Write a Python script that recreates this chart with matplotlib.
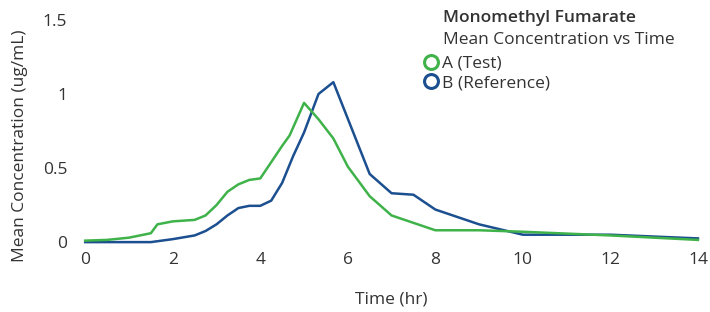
import matplotlib
matplotlib.use('Agg')
import matplotlib.pyplot as plt
from matplotlib.lines import Line2D

plt.rcParams['font.family'] = ['Open Sans', 'DejaVu Sans']

# A (Test)
time_a = [0, 0.5, 1.0, 1.5, 1.65, 2.0, 2.5, 2.75, 3.0, 3.25, 3.5, 3.75, 4.0,
          4.5, 4.67, 5.0, 5.33, 5.67, 6.0, 6.5, 7.0, 7.5, 8.0, 9.0, 10, 12, 14]
conc_a = [0.01, 0.015, 0.03, 0.06, 0.12, 0.14, 0.15, 0.18, 0.25, 0.34, 0.39, 0.42, 0.43,
          0.65, 0.72, 0.94, 0.83, 0.70, 0.51, 0.31, 0.18, 0.13, 0.08, 0.08, 0.07, 0.045, 0.015]

# B (Reference)
time_b = [0, 1.5, 2.0, 2.5, 2.75, 3.0, 3.25, 3.5, 3.75, 4.0, 4.25, 4.5, 4.75,
          5.0, 5.33, 5.67, 6.5, 7.0, 7.5, 8.0, 9.0, 10.0, 12, 14]
conc_b = [0, 0, 0.02, 0.045, 0.075, 0.12, 0.18, 0.23, 0.245, 0.245, 0.28, 0.40, 0.58,
          0.74, 1.0, 1.08, 0.46, 0.33, 0.32, 0.22, 0.12, 0.05, 0.05, 0.025]

x_ticks = [0, 2, 4, 6, 8, 10, 12, 14]
y_ticks = [0, 0.5, 1, 1.5]
y_tick_labels = ['0', '0.5', '1', '1.5']

green = '#3fb24a'
blue = '#1b4f8f'
txt = '#333333'
fs = 12.5

fig = plt.figure(figsize=(7.1, 3.12), dpi=100)
ax = fig.add_axes([0.12, 0.224, 0.863, 0.712])

ax.plot(time_a, conc_a, color=green, lw=1.8, clip_on=False, zorder=3)
ax.plot(time_b, conc_b, color=blue, lw=1.8, clip_on=False, zorder=2)

ax.set_xlim(0, 14)
ax.set_ylim(0, 1.5)
ax.set_xticks(x_ticks)
ax.set_yticks(y_ticks)
ax.set_yticklabels(y_tick_labels)
for s in ax.spines.values():
    s.set_visible(False)
ax.tick_params(length=0, labelsize=fs, colors=txt)
ax.tick_params(axis='x', pad=7)
ax.tick_params(axis='y', pad=13)

ax.set_xlabel('Time (hr)', fontsize=fs, color=txt, labelpad=17)
fig.text(0.028, 0.532, 'Mean Concentration (ug/mL)', rotation=90, fontsize=fs,
         color=txt, ha='center', va='center')

fig.text(0.624, 0.942, 'Monomethyl Fumarate', fontsize=fs, fontweight='semibold',
         color=txt, ha='left', va='center')
fig.text(0.624, 0.872, 'Mean Concentration vs Time', fontsize=fs,
         color=txt, ha='left', va='center')

handles = [Line2D([], [], ls='none', marker='o', ms=10, mfc='white', mec=green, mew=2.2),
           Line2D([], [], ls='none', marker='o', ms=10, mfc='white', mec=blue, mew=2.2)]
leg = fig.legend(handles, ['A (Test)', 'B (Reference)'], loc='upper left',
                 bbox_to_anchor=(0.586, 0.85), frameon=False, fontsize=fs,
                 handlelength=0.7, handletextpad=0.3, labelspacing=0.2,
                 borderpad=0)
for t in leg.get_texts():
    t.set_color(txt)

fig.savefig('out.png', dpi=100)
